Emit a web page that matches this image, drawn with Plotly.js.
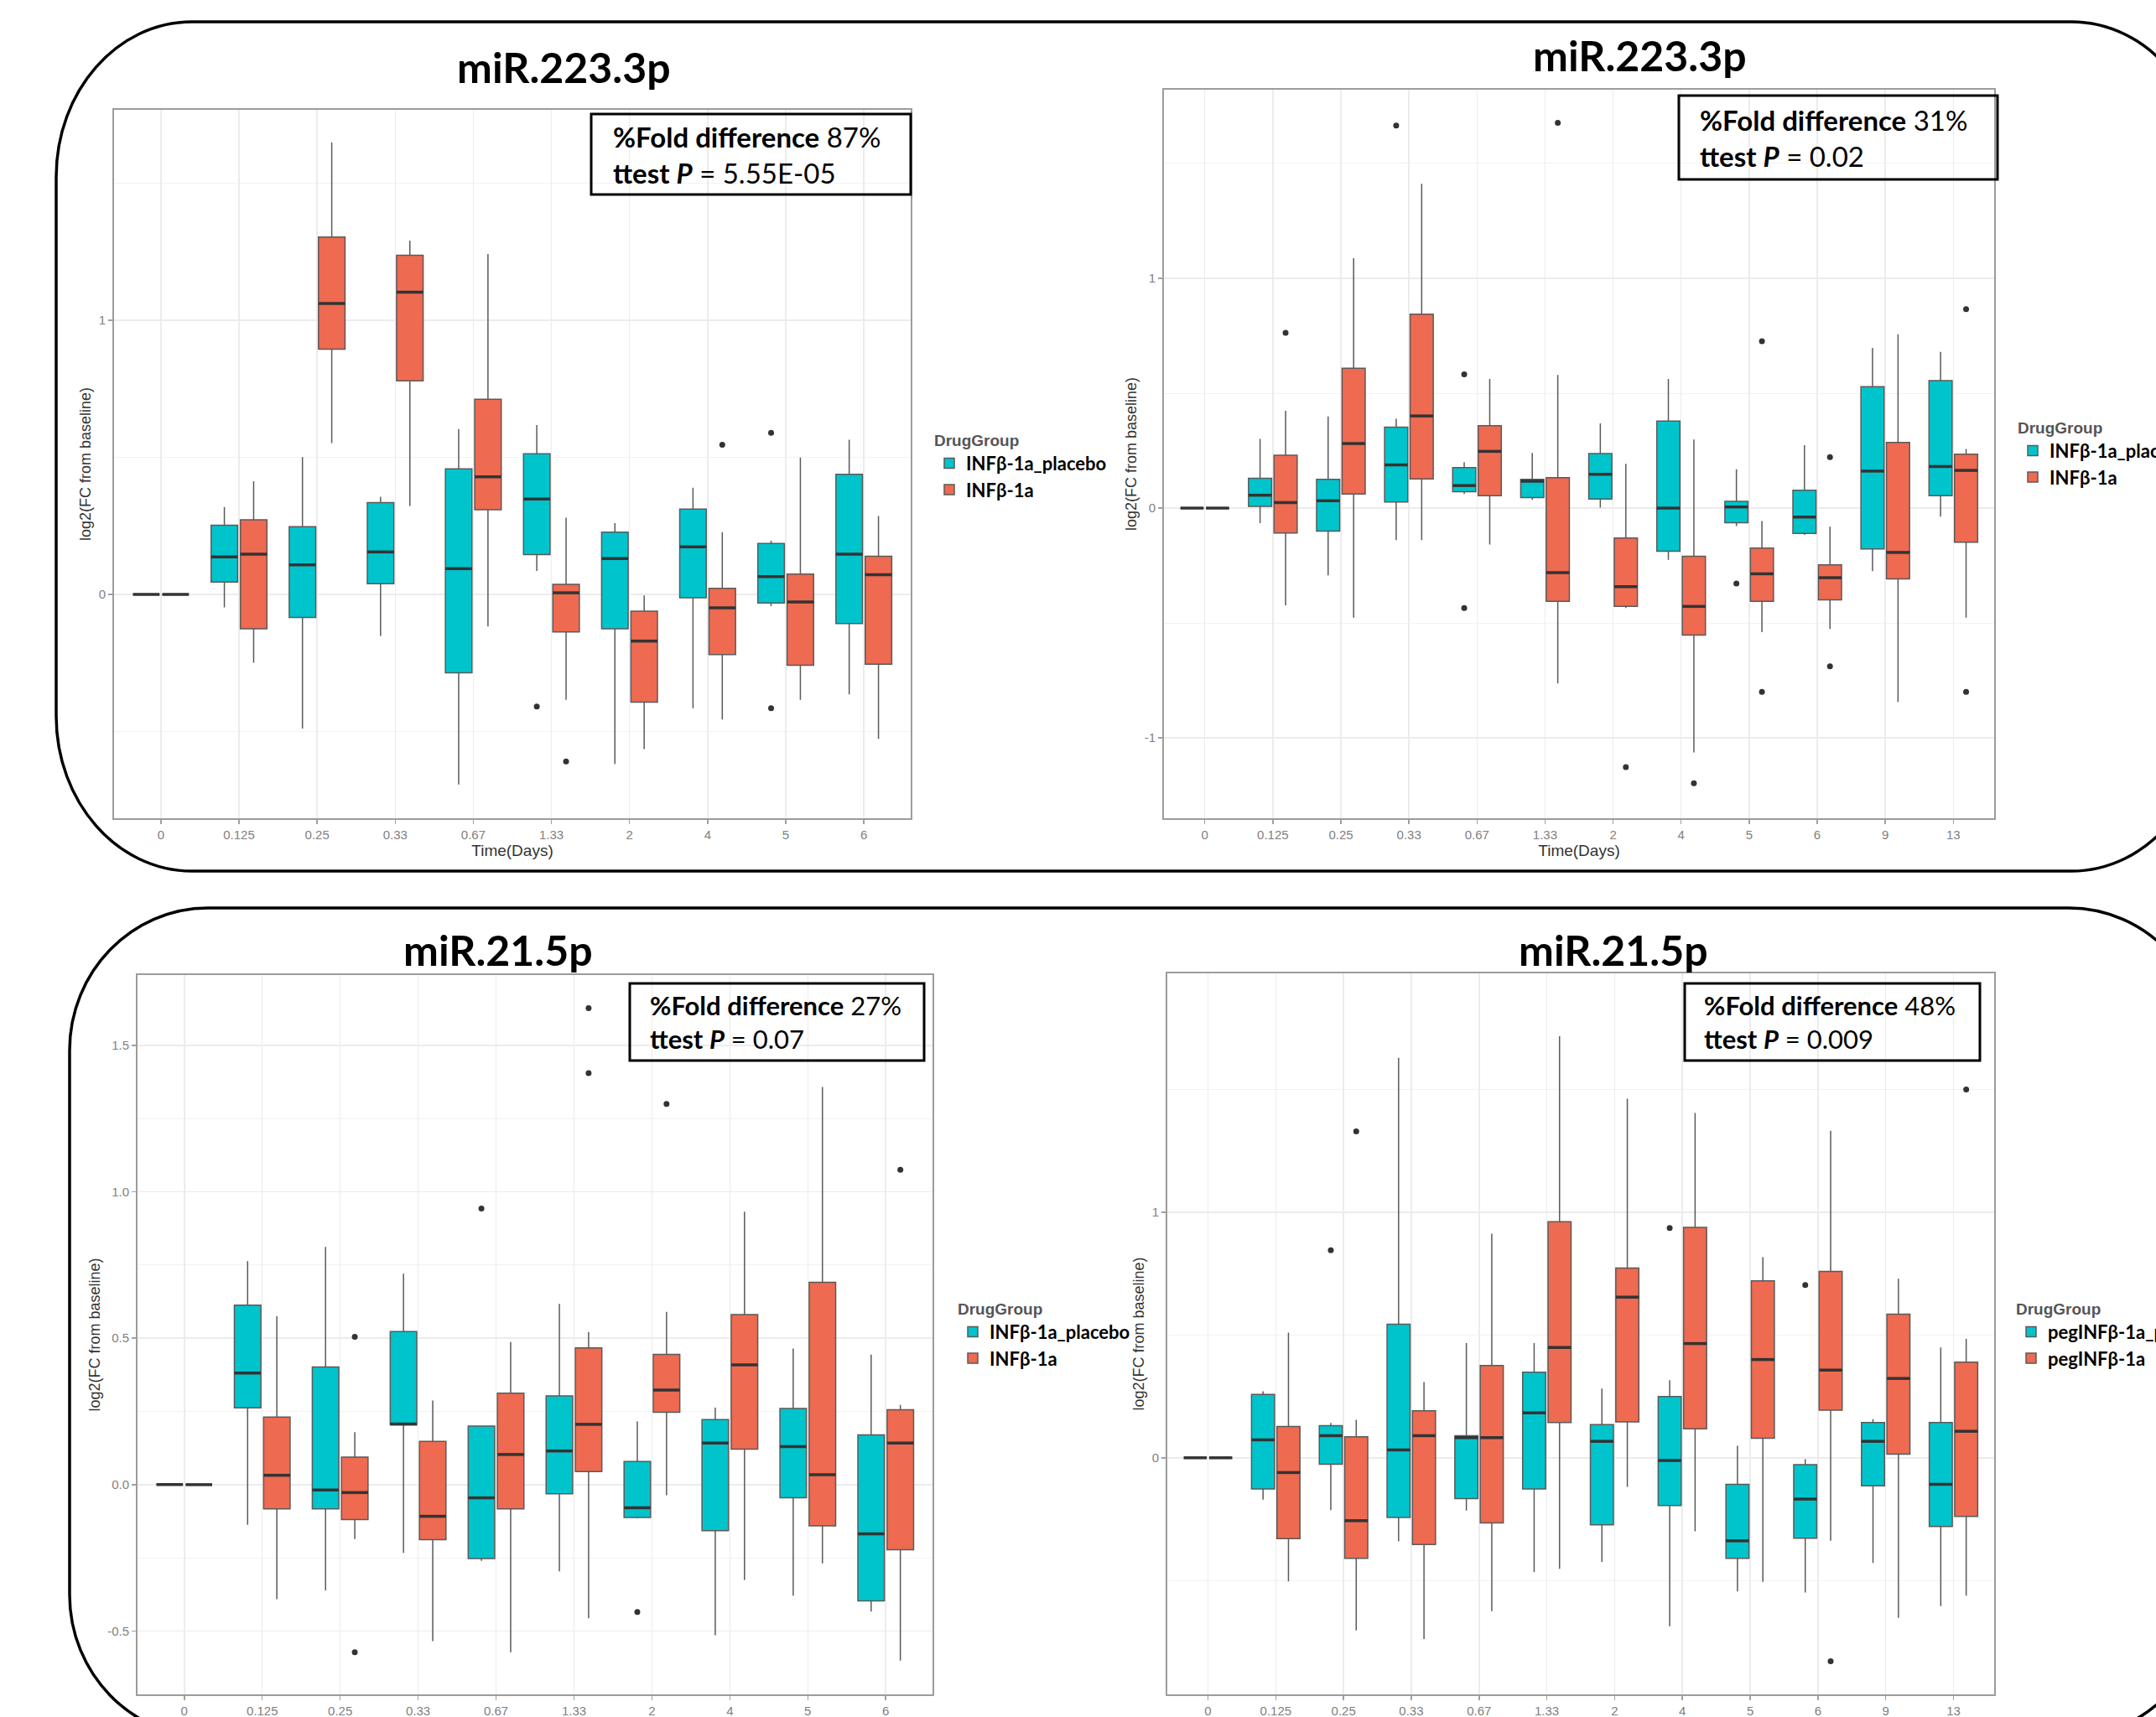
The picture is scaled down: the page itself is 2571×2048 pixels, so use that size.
<!DOCTYPE html>
<html>
<head>
<meta charset="utf-8">
<script src="https://cdn.plot.ly/plotly-3.0.1.min.js"></script>
<style>html,body{margin:0;padding:0;background:#fff;overflow:hidden;}#plot{width:2571px;height:2048px;}</style>
</head>
<body>
<div id="plot"></div>
<script>
// ---------------- DATA ----------------
const catsShort = ['0','0.125','0.25','0.33','0.67','1.33','2','4','5','6'];
const catsLong  = ['0','0.125','0.25','0.33','0.67','1.33','2','4','5','6','9','13'];

const groupNamesA = ['INFβ-1a_placebo','INFβ-1a'];
const groupNamesB = ['pegINFβ-1a_placebo','pegINFβ-1a'];

const panelTitles = ['miR.223.3p','miR.223.3p','miR.21.5p','miR.21.5p'];
const foldDiff = ['87%','31%','27%','48%'];
const ttestP = ['5.55E-05','0.02','0.07','0.009'];

// y tick labels per panel
const ytickTL = [0, 1];           const ytickTextTL = ['0','1'];
const ytickTR = [-1, 0, 1];       const ytickTextTR = ['-1','0','1'];
const ytickBL = [-0.5, 0, 0.5, 1, 1.5]; const ytickTextBL = ['-0.5','0.0','0.5','1.0','1.5'];
const ytickBR = [0, 1];           const ytickTextBR = ['0','1'];

// ---- Top-left: miR.223.3p (INFβ-1a) ----
const tlPlLow = [0, -0.047, -0.489, -0.151, -0.693, 0.086, -0.618, -0.415, -0.043, -0.364];
const tlPlQ1  = [0, 0.045, -0.084, 0.039, -0.286, 0.145, -0.125, -0.012, -0.031, -0.106];
const tlPlMed = [0, 0.137, 0.108, 0.155, 0.094, 0.348, 0.131, 0.174, 0.065, 0.147];
const tlPlQ3  = [0, 0.252, 0.247, 0.335, 0.458, 0.513, 0.227, 0.311, 0.186, 0.438];
const tlPlUp  = [0, 0.319, 0.501, 0.356, 0.603, 0.618, 0.260, 0.389, 0.196, 0.564];
const tlPlOutCat = ['1.33','5','5'];
const tlPlOutY   = [-0.409, 0.589, -0.415];

const tlRxLow = [0, -0.249, 0.552, 0.323, -0.117, -0.384, -0.564, -0.456, -0.384, -0.526];
const tlRxQ1  = [0, -0.125, 0.894, 0.779, 0.309, -0.137, -0.393, -0.219, -0.258, -0.254];
const tlRxMed = [0, 0.147, 1.061, 1.102, 0.429, 0.006, -0.170, -0.049, -0.027, 0.072];
const tlRxQ3  = [0, 0.272, 1.303, 1.237, 0.712, 0.037, -0.061, 0.022, 0.074, 0.139];
const tlRxUp  = [0, 0.413, 1.648, 1.290, 1.241, 0.280, -0.004, 0.227, 0.499, 0.286];
const tlRxOutCat = ['1.33','4'];
const tlRxOutY   = [-0.609, 0.546];

// ---- Top-right: miR.223.3p ----
const trPlLow = [0, -0.066, -0.293, -0.139, 0.061, 0.037, 0.002, -0.225, -0.078, -0.117, -0.274, -0.037];
const trPlQ1  = [0, 0.007, -0.100, 0.027, 0.071, 0.046, 0.039, -0.188, -0.064, -0.110, -0.178, 0.054];
const trPlMed = [0, 0.056, 0.032, 0.188, 0.098, 0.117, 0.147, 0.000, 0.005, -0.039, 0.161, 0.181];
const trPlQ3  = [0, 0.130, 0.125, 0.352, 0.176, 0.125, 0.237, 0.379, 0.029, 0.078, 0.528, 0.555];
const trPlUp  = [0, 0.301, 0.399, 0.389, 0.200, 0.240, 0.369, 0.562, 0.169, 0.274, 0.697, 0.680];
const trPlOutCat = ['0.33','0.67','0.67','5'];
const trPlOutY   = [1.665, 0.582, -0.435, -0.328];

const trRxLow = [0, -0.423, -0.477, -0.139, -0.159, -0.763, -0.435, -1.064, -0.540, -0.526, -0.844, -0.477];
const trRxQ1  = [0, -0.108, 0.061, 0.127, 0.054, -0.406, -0.428, -0.553, -0.406, -0.399, -0.308, -0.149];
const trRxMed = [0, 0.024, 0.281, 0.401, 0.247, -0.281, -0.342, -0.428, -0.286, -0.303, -0.193, 0.164];
const trRxQ3  = [0, 0.230, 0.609, 0.844, 0.359, 0.132, -0.130, -0.210, -0.174, -0.247, 0.286, 0.235];
const trRxUp  = [0, 0.423, 1.088, 1.411, 0.562, 0.579, 0.193, 0.298, -0.056, -0.081, 0.756, 0.257];
const trRxOutCat = ['0.125','1.33','2','4','5','5','6','6','13','13'];
const trRxOutY   = [0.763, 1.677, -1.127, -1.198, 0.726, -0.800, 0.222, -0.689, 0.866, -0.800];

// ---- Bottom-left: miR.21.5p ----
const blPlLow = [0, -0.137, -0.361, -0.233, -0.260, -0.296, -0.115, -0.514, -0.379, -0.433];
const blPlQ1  = [0, 0.262, -0.083, 0.204, -0.252, -0.031, -0.112, -0.157, -0.045, -0.397];
const blPlMed = [0, 0.381, -0.018, 0.207, -0.045, 0.115, -0.079, 0.142, 0.130, -0.168];
const blPlQ3  = [0, 0.613, 0.402, 0.523, 0.200, 0.303, 0.079, 0.222, 0.260, 0.170];
const blPlUp  = [0, 0.763, 0.812, 0.720, 0.200, 0.617, 0.216, 0.263, 0.465, 0.444];
const blPlOutCat = ['0.67','2'];
const blPlOutY   = [0.943, -0.435];

const blRxLow = [0, -0.391, -0.186, -0.534, -0.572, -0.456, -0.036, -0.325, -0.269, -0.601];
const blRxQ1  = [0, -0.083, -0.119, -0.188, -0.083, 0.045, 0.247, 0.121, -0.141, -0.222];
const blRxMed = [0, 0.032, -0.027, -0.108, 0.103, 0.206, 0.323, 0.409, 0.034, 0.142];
const blRxQ3  = [0, 0.231, 0.094, 0.148, 0.312, 0.467, 0.445, 0.581, 0.691, 0.256];
const blRxUp  = [0, 0.575, 0.179, 0.287, 0.487, 0.521, 0.590, 0.932, 1.358, 0.272];
const blRxOutCat = ['0.25','0.25','1.33','1.33','2','6'];
const blRxOutY   = [0.505, -0.572, 1.627, 1.405, 1.300, 1.075];

// ---- Bottom-right: miR.21.5p (pegINFβ-1a) ----
const brPlLow = [0, -0.170, -0.213, -0.340, -0.215, -0.465, -0.424, -0.686, -0.544, -0.548, -0.428, -0.604];
const brPlQ1  = [0, -0.127, -0.026, -0.243, -0.166, -0.127, -0.273, -0.194, -0.409, -0.327, -0.114, -0.280];
const brPlMed = [0, 0.073, 0.090, 0.032, 0.082, 0.183, 0.067, -0.011, -0.338, -0.168, 0.067, -0.108];
const brPlQ3  = [0, 0.258, 0.131, 0.544, 0.090, 0.348, 0.135, 0.249, -0.108, -0.028, 0.144, 0.144];
const brPlUp  = [0, 0.271, 0.142, 1.628, 0.467, 0.467, 0.282, 0.316, 0.049, -0.006, 0.157, 0.449];
const brPlOutCat = ['0.25','4','6'];
const brPlOutY   = [0.845, 0.935, 0.703];

const brRxLow = [0, -0.503, -0.703, -0.738, -0.624, -0.452, -0.118, -0.299, -0.505, -0.338, -0.652, -0.561];
const brRxQ1  = [0, -0.329, -0.409, -0.353, -0.265, 0.144, 0.146, 0.118, 0.080, 0.194, 0.015, -0.239];
const brRxMed = [0, -0.060, -0.256, 0.090, 0.082, 0.449, 0.654, 0.465, 0.400, 0.357, 0.323, 0.108];
const brRxQ3  = [0, 0.127, 0.086, 0.191, 0.376, 0.961, 0.772, 0.938, 0.720, 0.759, 0.585, 0.389];
const brRxUp  = [0, 0.510, 0.155, 0.308, 0.912, 1.716, 1.462, 1.404, 0.817, 1.331, 0.729, 0.484];
const brRxOutCat = ['0.25','6','13'];
const brRxOutY   = [1.329, -0.828, 1.499];

// ---------------- STYLE / LAYOUT ----------------
const W = 2571, H = 2048;
const px = v => v / W;
const py = v => 1 - v / H;
const TEAL = '#00C4CC', RED = '#EE6A50';
const DODGE = 0.1875, BOXW = 0.34;
const TICKFONT = {family: 'Liberation Sans, Arial, sans-serif', size: 15, color: '#7f7f7f'};
const AXFONT = {family: 'Liberation Sans, Arial, sans-serif', size: 18, color: '#333'};
const LBL = 'Lato, Noto Sans, sans-serif';

const panels = [
  {s: '', cats: catsShort, names: groupNamesA, xtitle: true,
   pl: [tlPlLow, tlPlQ1, tlPlMed, tlPlQ3, tlPlUp, tlPlOutCat, tlPlOutY],
   rx: [tlRxLow, tlRxQ1, tlRxMed, tlRxQ3, tlRxUp, tlRxOutCat, tlRxOutY],
   xd: [136, 1086], yd: [131, 976], yr: [-0.816, 1.767], yt: ytickTL, ytt: ytickTextTL, minor0: 0.5, minorD: 1,
   title: [672, 80], box: [705, 136, 1086, 232], textX: 729, fs: 33, leg: [1112, 507]},
  {s: '2', cats: catsLong, names: groupNamesA, xtitle: true,
   pl: [trPlLow, trPlQ1, trPlMed, trPlQ3, trPlUp, trPlOutCat, trPlOutY],
   rx: [trRxLow, trRxQ1, trRxMed, trRxQ3, trRxUp, trRxOutCat, trRxOutY],
   xd: [1388, 2378], yd: [107, 976], yr: [-1.35, 1.821], yt: ytickTR, ytt: ytickTextTR, minor0: 0.5, minorD: 1,
   title: [1955, 66], box: [2002, 114, 2382, 214], textX: 2025, fs: 33, leg: [2404, 492]},
  {s: '3', cats: catsShort, names: groupNamesA, xtitle: false,
   pl: [blPlLow, blPlQ1, blPlMed, blPlQ3, blPlUp, blPlOutCat, blPlOutY],
   rx: [blRxLow, blRxQ1, blRxMed, blRxQ3, blRxUp, blRxOutCat, blRxOutY],
   xd: [164, 1112], yd: [1163, 2021], yr: [-0.716, 1.740], yt: ytickBL, ytt: ytickTextBL, minor0: 0.25, minorD: 0.5,
   title: [594, 1133], box: [751, 1173, 1102, 1265], textX: 773, fs: 31, leg: [1140, 1543]},
  {s: '4', cats: catsLong, names: groupNamesB, xtitle: false,
   pl: [brPlLow, brPlQ1, brPlMed, brPlQ3, brPlUp, brPlOutCat, brPlOutY],
   rx: [brRxLow, brRxQ1, brRxMed, brRxQ3, brRxUp, brRxOutCat, brRxOutY],
   xd: [1392, 2378], yd: [1161, 2021], yr: [-0.963, 1.972], yt: ytickBR, ytt: ytickTextBR, minor0: 0.5, minorD: 1,
   title: [1924, 1133], box: [2009, 1173, 2361, 1265], textX: 2030, fs: 31, leg: [2402, 1543]}
];

const traces = [];
const layout = {
  width: W, height: H, autosize: false,
  margin: {l: 0, r: 0, t: 0, b: 0, pad: 0, autoexpand: false},
  paper_bgcolor: '#fff', plot_bgcolor: '#fff',
  showlegend: true, hovermode: false,
  shapes: [], annotations: []
};

panels.forEach((p, pi) => {
  const xa = 'x' + p.s, ya = 'y' + p.s;
  const legName = 'legend' + p.s;
  const idx = p.cats.map((c, i) => i);
  [[p.pl, -DODGE, TEAL, p.names[0]], [p.rx, DODGE, RED, p.names[1]]].forEach(([g, off, col, nm]) => {
    const [low, q1, med, q3, up, outCat, outY] = g;
    const xs = idx.map(i => i + off);
    traces.push({
      type: 'box', orientation: 'v', x: xs,
      lowerfence: low, q1: q1, median: med, q3: q3, upperfence: up,
      width: BOXW, whiskerwidth: 0, boxpoints: false,
      fillcolor: col, line: {color: '#5a5a5a', width: 1.5},
      name: nm, legend: legName, xaxis: xa, yaxis: ya, hoverinfo: 'skip'
    });
    // thick median bar (ggplot style)
    const mx = [], my = [];
    xs.forEach((x, i) => { mx.push(x - BOXW / 2, x + BOXW / 2, null); my.push(med[i], med[i], null); });
    traces.push({type: 'scatter', mode: 'lines', x: mx, y: my, line: {color: '#333', width: 3.5},
      showlegend: false, xaxis: xa, yaxis: ya, hoverinfo: 'skip'});
    // outliers
    traces.push({type: 'scatter', mode: 'markers',
      x: outCat.map(c => p.cats.indexOf(c) + off), y: outY,
      marker: {color: '#333', size: 7}, showlegend: false, xaxis: xa, yaxis: ya, hoverinfo: 'skip'});
  });

  const xax = {
    domain: [px(p.xd[0]), px(p.xd[1])], anchor: ya, range: [-0.6, p.cats.length - 0.4],
    tickmode: 'array', tickvals: idx, ticktext: p.cats, tickfont: TICKFONT,
    ticks: 'outside', ticklen: 5, tickcolor: '#a0a0a0', tickwidth: 1.5,
    showgrid: true, gridcolor: '#ececec', gridwidth: 1.5, zeroline: false,
    showline: true, mirror: true, linecolor: '#9c9c9c', linewidth: 2,
    automargin: false, fixedrange: true
  };
  if (p.xtitle) xax.title = {text: 'Time(Days)', font: {family: AXFONT.family, size: 19, color: '#333'}, standoff: 2};
  layout['xaxis' + p.s] = xax;
  layout['yaxis' + p.s] = {
    domain: [py(p.yd[1]), py(p.yd[0])], anchor: xa, range: p.yr,
    tickmode: 'array', tickvals: p.yt, ticktext: p.ytt, tickfont: TICKFONT,
    ticks: 'outside', ticklen: 5, tickcolor: '#a0a0a0', tickwidth: 1.5,
    showgrid: true, gridcolor: '#ececec', gridwidth: 1.5, zeroline: false,
    minor: {tickmode: 'linear', tick0: p.minor0, dtick: p.minorD, showgrid: true, gridcolor: '#f2f2f2', gridwidth: 1, ticks: ''},
    showline: true, mirror: true, linecolor: '#9c9c9c', linewidth: 2,
    title: {text: 'log2(FC from baseline)', font: AXFONT, standoff: 4},
    automargin: false, fixedrange: true
  };
  layout[legName] = {
    x: px(p.leg[0]), y: py(p.leg[1]), xanchor: 'left', yanchor: 'top',
    bgcolor: 'rgba(0,0,0,0)', tracegroupgap: 0, itemwidth: 30,
    title: {text: 'DrugGroup', font: {family: AXFONT.family, size: 19, color: '#555'}},
    font: {family: LBL, size: 22, color: '#000', weight: 700}
  };
  // panel title
  layout.annotations.push({xref: 'paper', yref: 'paper', x: px(p.title[0]), y: py(p.title[1]),
    xanchor: 'center', yanchor: 'middle', showarrow: false,
    text: '<b>' + panelTitles[pi] + '</b>', font: {family: LBL, size: 50, color: '#000'}});
  // stats box
  const b = p.box;
  layout.shapes.push({type: 'rect', xref: 'paper', yref: 'paper',
    x0: px(b[0]), x1: px(b[2]), y0: py(b[3]), y1: py(b[1]),
    line: {color: '#000', width: 3}, fillcolor: 'rgba(0,0,0,0)', layer: 'above'});
  layout.annotations.push({xref: 'paper', yref: 'paper', x: px(p.textX), y: py((b[1] + b[3]) / 2),
    xanchor: 'left', yanchor: 'middle', align: 'left', showarrow: false,
    text: '<b>%Fold difference</b> ' + foldDiff[pi] + '<br><b>ttest <i>P</i></b> = ' + ttestP[pi],
    font: {family: LBL, size: p.fs, color: '#000'}});
});

// rounded frames around each row
function rrect(x0, y0, x1, y1, rx, ry) {
  const k = 0.5523;
  const P = (x, y) => px(x).toFixed(5) + ',' + py(y).toFixed(5);
  return 'M' + P(x0 + rx, y0) + ' L' + P(x1 - rx, y0) +
    ' C' + P(x1 - rx + k * rx, y0) + ' ' + P(x1, y0 + ry - k * ry) + ' ' + P(x1, y0 + ry) +
    ' L' + P(x1, y1 - ry) +
    ' C' + P(x1, y1 - ry + k * ry) + ' ' + P(x1 - rx + k * rx, y1) + ' ' + P(x1 - rx, y1) +
    ' L' + P(x0 + rx, y1) +
    ' C' + P(x0 + rx - k * rx, y1) + ' ' + P(x0, y1 - ry + k * ry) + ' ' + P(x0, y1 - ry) +
    ' L' + P(x0, y0 + ry) +
    ' C' + P(x0, y0 + ry - k * ry) + ' ' + P(x0 + rx - k * rx, y0) + ' ' + P(x0 + rx, y0) + ' Z';
}
layout.shapes.push({type: 'path', xref: 'paper', yref: 'paper', path: rrect(67, 26, 2632, 1039, 162, 185),
  line: {color: '#000', width: 3.5}, layer: 'above'});
layout.shapes.push({type: 'path', xref: 'paper', yref: 'paper', path: rrect(83, 1083, 2632, 2072, 165, 170),
  line: {color: '#000', width: 3.5}, layer: 'above'});

Plotly.newPlot('plot', traces, layout, {staticPlot: true, displayModeBar: false});
</script>
</body>
</html>
